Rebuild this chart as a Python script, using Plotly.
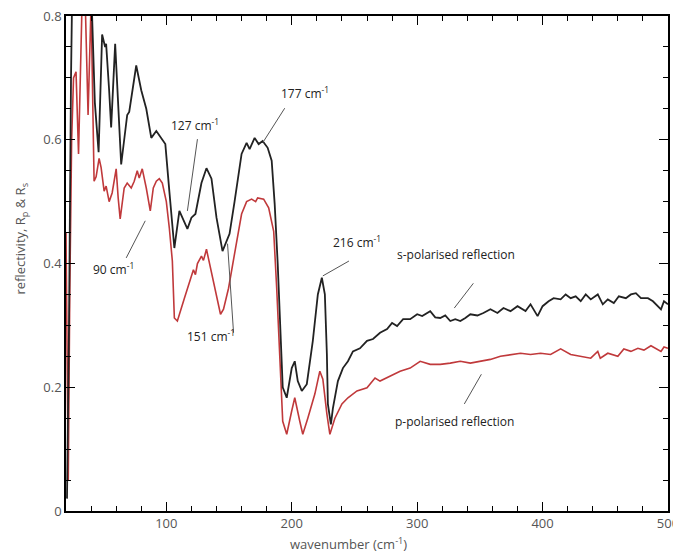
import plotly.graph_objects as go

# s-polarised reflection (black)
s_wavenumber = [20.8, 22.4, 24, 25, 30, 36, 40.5, 43, 46, 48.8, 51.2, 52, 54.4, 56, 59.2, 64, 68.8, 70.4,
                76, 80, 84, 88, 92, 96, 99.2, 102.4, 106.4, 110.4, 113.6, 116.8, 120, 123.2, 128, 132,
                136, 140, 144.8, 148, 150.4, 154.4, 160, 164, 166.4, 170.4, 173.6, 176.8, 180.8, 184,
                186.4, 188.8, 192.8, 196, 200, 202.4, 204.8, 208, 212, 216.8, 220.8, 224, 226.4, 228,
                228.8, 231.2, 232.8, 236.8, 240.8, 244.8, 248.8, 254.4, 260, 264.8, 270.4, 276, 280,
                284, 288.8, 294.4, 300, 304, 310.4, 314.4, 318.4, 322.4, 326.4, 330.4, 334.4, 338.4,
                342.4, 348, 352.8, 358.4, 364, 368.8, 374.4, 380, 386.4, 390.4, 396, 400, 404.8, 408.8,
                414.4, 418.4, 422.4, 426.4, 430.4, 434.4, 438.4, 444, 448, 452, 456.8, 460.8, 466.4,
                470.4, 474.4, 478.4, 484, 488, 492, 494.4, 496.8, 500]
s_reflectivity = [0.02, 0.3, 0.7, 0.85, 0.9, 0.88, 0.82, 0.66, 0.58, 0.77, 0.75, 0.755, 0.68, 0.62, 0.755, 0.56,
                  0.64, 0.645, 0.72, 0.68, 0.65, 0.603, 0.614, 0.603, 0.593, 0.517, 0.425, 0.485, 0.469,
                  0.456, 0.474, 0.48, 0.53, 0.554, 0.537, 0.474, 0.42, 0.436, 0.448, 0.5, 0.577, 0.595,
                  0.585, 0.603, 0.593, 0.598, 0.587, 0.566, 0.496, 0.40, 0.2, 0.183, 0.231, 0.242, 0.21,
                  0.194, 0.205, 0.275, 0.35, 0.377, 0.35, 0.254, 0.173, 0.14, 0.166, 0.21, 0.231, 0.242,
                  0.258, 0.263, 0.275, 0.278, 0.288, 0.294, 0.304, 0.299, 0.31, 0.31, 0.318, 0.315, 0.323,
                  0.313, 0.312, 0.316, 0.307, 0.31, 0.307, 0.312, 0.318, 0.316, 0.32, 0.326, 0.32, 0.328,
                  0.323, 0.331, 0.323, 0.334, 0.315, 0.331, 0.339, 0.344, 0.342, 0.35, 0.344, 0.347,
                  0.339, 0.35, 0.342, 0.35, 0.334, 0.342, 0.336, 0.347, 0.344, 0.35, 0.352, 0.344, 0.344,
                  0.339, 0.331, 0.326, 0.339, 0.334]

# p-polarised reflection (red)
p_wavenumber = [20, 21, 21.8, 23, 24.5, 26, 28, 30, 32.8, 35, 37.6, 40, 42.4, 44, 46.4, 48, 50.4, 52, 54.4,
                56.8, 60, 61.6, 63.2, 66.4, 68.8, 72, 74.4, 76.8, 78.4, 80.8, 84, 87.2, 89.6, 92, 94.4,
                96.8, 100, 102.4, 104.8, 106.4, 108.8, 114.4, 120, 121.6, 123.2, 124.8, 128, 129.6, 132,
                135.2, 139.2, 143.2, 145.6, 149.6, 155.2, 160, 164, 168, 171.2, 172.8, 177.6, 181.6,
                185.6, 188, 192.8, 196, 200, 202.4, 206.4, 208.8, 212.8, 218.4, 222.4, 224.8, 228, 230.4,
                234.4, 240, 244.8, 252, 260, 266.4, 270.4, 278.4, 286.4, 294.4, 302.4, 310.4, 318.4,
                326.4, 334.4, 342.4, 350.4, 358.4, 366.4, 374.4, 382.4, 390.4, 398.4, 406.4, 414.4,
                422.4, 430.4, 438.4, 444, 446, 452, 460, 464.8, 470.4, 476, 480.8, 486.4, 490.4, 494.4,
                496.8, 500]
p_reflectivity = [0.45, 0.2, 0.05, 0.35, 0.6, 0.70, 0.71, 0.577, 0.82, 0.85, 0.64, 0.82, 0.533, 0.54, 0.57,
                  0.555, 0.517, 0.525, 0.5, 0.514, 0.553, 0.506, 0.472, 0.522, 0.53, 0.522, 0.533, 0.55,
                  0.538, 0.553, 0.522, 0.485, 0.522, 0.533, 0.537, 0.53, 0.5, 0.457, 0.404, 0.312, 0.307,
                  0.344, 0.38, 0.39, 0.382, 0.4, 0.412, 0.405, 0.423, 0.393, 0.356, 0.318, 0.326, 0.36,
                  0.425, 0.48, 0.5, 0.504, 0.5, 0.506, 0.504, 0.49, 0.452, 0.36, 0.145, 0.124, 0.162,
                  0.183, 0.145, 0.124, 0.15, 0.189, 0.226, 0.213, 0.157, 0.124, 0.15, 0.173, 0.183, 0.194,
                  0.199, 0.215, 0.21, 0.218, 0.226, 0.231, 0.242, 0.237, 0.237, 0.239, 0.242, 0.239, 0.242,
                  0.245, 0.25, 0.253, 0.255, 0.253, 0.255, 0.253, 0.262, 0.253, 0.25, 0.247, 0.258, 0.247,
                  0.255, 0.25, 0.262, 0.258, 0.263, 0.26, 0.267, 0.263, 0.258, 0.265, 0.263]

# annotation labels: (text, text x, text y, pointer start x, y, pointer end x, y)
labels = [
    ("127 cm<sup>-1</sup>", 123.2, 0.624, 124.8, 0.601, 116.8, 0.485),
    ("177 cm<sup>-1</sup>", 210.4, 0.676, 194.4, 0.651, 176.8, 0.595),
    ("90 cm<sup>-1</sup>", 57.6, 0.391, 68.0, 0.409, 83.2, 0.469),
    ("151 cm<sup>-1</sup>", 136.0, 0.283, 153.6, 0.288, 148.8, 0.432),
    ("216 cm<sup>-1</sup>", 252.0, 0.435, 245.6, 0.404, 224.8, 0.380),
    ("s-polarised reflection", 331.2, 0.414, 344.8, 0.368, 329.6, 0.328),
    ("p-polarised reflection", 329.6, 0.145, 351.2, 0.221, 337.6, 0.173),
]

FONT = "Open Sans, DejaVu Sans, sans-serif"

fig = go.Figure()
fig.add_trace(go.Scatter(x=p_wavenumber, y=p_reflectivity, mode="lines",
                         line=dict(color="#c0393b", width=1.6), showlegend=False))
fig.add_trace(go.Scatter(x=s_wavenumber, y=s_reflectivity, mode="lines",
                         line=dict(color="#222222", width=1.8), showlegend=False))

for text, tx, ty, x0, y0, x1, y1 in labels:
    fig.add_annotation(x=tx, y=ty, text=text, showarrow=False,
                       font=dict(family=FONT, size=12, color="#222"))
    fig.add_shape(type="line", x0=x0, y0=y0, x1=x1, y1=y1,
                  line=dict(color="#555", width=1))

fig.add_annotation(xref="paper", yref="paper", x=0.47, y=-0.066, yanchor="middle",
                   text="wavenumber (cm<sup>-1</sup>)", showarrow=False,
                   font=dict(family=FONT, size=13, color="#555"))
fig.add_annotation(xref="paper", yref="paper", x=-0.075, y=0.55, xanchor="center",
                   text="reflectivity, R<sub>p</sub> &amp; R<sub>s</sub>", textangle=-90,
                   showarrow=False, font=dict(family=FONT, size=13, color="#555"))

axis_common = dict(showline=True, linecolor="black", linewidth=1.5, mirror="allticks",
                   ticks="inside", tickcolor="black", tickwidth=1.2, ticklen=9,
                   showgrid=False, zeroline=False, automargin=False,
                   ticklabeloverflow="allow",
                   tickfont=dict(family=FONT, size=13, color="#555"))

# page body has an 8px default margin, so the figure is sized to fit the window
fig.update_layout(
    width=673, height=544,
    margin=dict(l=58, r=13, t=8, b=41, autoexpand=False),
    paper_bgcolor="white", plot_bgcolor="white",
    xaxis=dict(range=[20, 500], tick0=0, dtick=100,
               minor=dict(dtick=20, ticks="inside", ticklen=5, tickcolor="black"),
               **axis_common),
    yaxis=dict(range=[0, 0.8], tick0=0, dtick=0.2, tickvals=[0, 0.2, 0.4, 0.6, 0.8],
               minor=dict(dtick=0.05, ticks="inside", ticklen=5, tickcolor="black"),
               **axis_common),
)

fig.write_html("out.html")
